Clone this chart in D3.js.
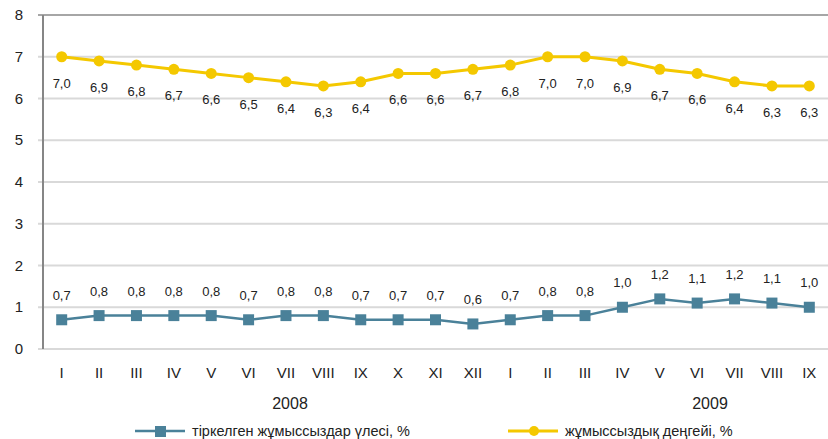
<!DOCTYPE html>
<html>
<head>
<meta charset="utf-8">
<script src="https://cdn.jsdelivr.net/npm/d3@7"></script>
<style>
    body { margin: 0; background: #fff; }
    text { font-family: "Liberation Sans", Arial, sans-serif; fill: #222; }
</style>
</head>
<body>
<div id="chart-area"></div>
<script>
var months = ["I", "II", "III", "IV", "V", "VI", "VII", "VIII", "IX", "X", "XI", "XII",
    "I", "II", "III", "IV", "V", "VI", "VII", "VIII", "IX"];
var unemployment = [7.0, 6.9, 6.8, 6.7, 6.6, 6.5, 6.4, 6.3, 6.4, 6.6, 6.6, 6.7,
    6.8, 7.0, 7.0, 6.9, 6.7, 6.6, 6.4, 6.3, 6.3];
var registered = [0.7, 0.8, 0.8, 0.8, 0.8, 0.7, 0.8, 0.8, 0.7, 0.7, 0.7, 0.6,
    0.7, 0.8, 0.8, 1.0, 1.2, 1.1, 1.2, 1.1, 1.0];
var yTicks = [0, 1, 2, 3, 4, 5, 6, 7, 8];
var years = ["2008", "2009"];
var seriesNames = ["тіркелген жұмыссыздар үлесі, %", "жұмыссыздық деңгейі, %"];

var width = 828;
var height = 439;
var blue = "#4a8199";
var yellow = "#f4c800";

var svg = d3.select("#chart-area")
    .append("svg")
    .attr("width", width)
    .attr("height", height);

var idx = d3.range(months.length);

var x = d3.scaleBand()
    .domain(idx)
    .range([43, 828]);

var y = d3.scaleLinear()
    .domain([0, 8])
    .range([349, 15]);

function cx(i) { return x(i) + x.bandwidth() / 2; }
function fmt(v) { return d3.format(".1f")(v).replace(".", ","); }

// gridlines
svg.selectAll(".grid")
    .data(yTicks)
    .enter()
    .append("line")
    .attr("x1", 38)
    .attr("x2", 828)
    .attr("y1", function(d) { return y(d); })
    .attr("y2", function(d) { return y(d); })
    .attr("stroke", function(d) { return d == 8 ? "#a6a6a6" : "#d9d9d9"; })
    .attr("stroke-width", 2);

// y axis line
svg.append("line")
    .attr("x1", 43).attr("x2", 43)
    .attr("y1", y(8)).attr("y2", y(0))
    .attr("stroke", "#868686")
    .attr("stroke-width", 2);

svg.selectAll(".ytick")
    .data(yTicks)
    .enter()
    .append("text")
    .attr("x", 23)
    .attr("y", function(d) { return y(d) + 5; })
    .attr("text-anchor", "end")
    .attr("font-size", 15)
    .text(function(d) { return d; });

// month labels
svg.selectAll(".xlab")
    .data(idx)
    .enter()
    .append("text")
    .attr("x", cx)
    .attr("y", 378)
    .attr("text-anchor", "middle")
    .attr("font-size", 15)
    .text(function(i) { return months[i]; });

svg.selectAll(".year")
    .data(years)
    .enter()
    .append("text")
    .attr("x", function(d, i) { return i == 0 ? 290 : 710; })
    .attr("y", 409)
    .attr("text-anchor", "middle")
    .attr("font-size", 16)
    .text(function(d) { return d; });

// lines
var lineU = d3.line()
    .x(function(i) { return cx(i); })
    .y(function(i) { return y(unemployment[i]); });
var lineR = d3.line()
    .x(function(i) { return cx(i); })
    .y(function(i) { return y(registered[i]); });

svg.append("path")
    .attr("d", lineU(idx))
    .attr("fill", "none")
    .attr("stroke", yellow)
    .attr("stroke-width", 3);

svg.append("path")
    .attr("d", lineR(idx))
    .attr("fill", "none")
    .attr("stroke", blue)
    .attr("stroke-width", 2.5);

svg.selectAll(".dotU")
    .data(idx)
    .enter()
    .append("circle")
    .attr("cx", cx)
    .attr("cy", function(i) { return y(unemployment[i]); })
    .attr("r", 5.5)
    .attr("fill", yellow);

svg.selectAll(".sqR")
    .data(idx)
    .enter()
    .append("rect")
    .attr("x", function(i) { return cx(i) - 5.5; })
    .attr("y", function(i) { return y(registered[i]) - 5.5; })
    .attr("width", 11)
    .attr("height", 11)
    .attr("fill", blue);

// value labels
svg.selectAll(".labU")
    .data(idx)
    .enter()
    .append("text")
    .attr("x", cx)
    .attr("y", function(i) { return y(unemployment[i]) + 31; })
    .attr("text-anchor", "middle")
    .attr("font-size", 13)
    .text(function(i) { return fmt(unemployment[i]); });

svg.selectAll(".labR")
    .data(idx)
    .enter()
    .append("text")
    .attr("x", cx)
    .attr("y", function(i) { return y(registered[i]) - 20; })
    .attr("text-anchor", "middle")
    .attr("font-size", 13)
    .text(function(i) { return fmt(registered[i]); });

// legend
var legend = svg.append("g");
legend.append("line")
    .attr("x1", 135).attr("x2", 185)
    .attr("y1", 431).attr("y2", 431)
    .attr("stroke", blue).attr("stroke-width", 2.5);
legend.append("rect")
    .attr("x", 155).attr("y", 426)
    .attr("width", 11).attr("height", 11)
    .attr("fill", blue);
legend.append("text")
    .attr("x", 192).attr("y", 436)
    .attr("font-size", 14.5)
    .text(seriesNames[0]);

legend.append("line")
    .attr("x1", 508).attr("x2", 558)
    .attr("y1", 431).attr("y2", 431)
    .attr("stroke", yellow).attr("stroke-width", 3);
legend.append("circle")
    .attr("cx", 534).attr("cy", 431)
    .attr("r", 5)
    .attr("fill", yellow);
legend.append("text")
    .attr("x", 565).attr("y", 436)
    .attr("font-size", 14.5)
    .text(seriesNames[1]);
</script>
</body>
</html>
